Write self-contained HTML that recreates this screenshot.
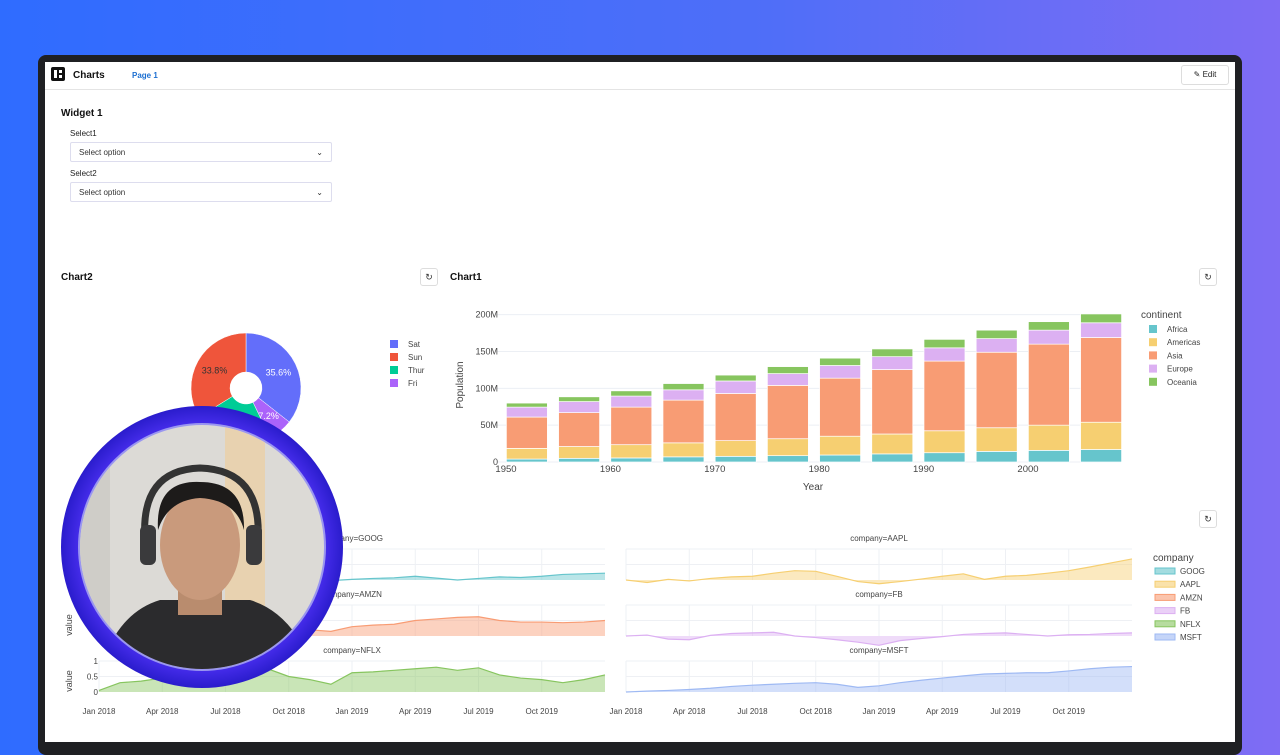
<!DOCTYPE html>
<html><head><meta charset="utf-8"><style>
body{margin:0;width:1280px;height:720px;overflow:hidden;font-family:"Liberation Sans",sans-serif;background:linear-gradient(90deg,#2f6cff 0%,#4f6ef8 60%,#7f6cf4 100%);position:relative}
.abs{position:absolute}
.win{left:38px;top:55px;width:1204px;height:700px;background:#1f2023;border-radius:8px}
.inner{left:45px;top:62px;width:1190px;height:680px;background:#fff}
.lbl{font-size:8px;color:#222}
.sel{width:262px;height:20px;border:1px solid #dde;border-radius:2px;font-size:8px;color:#333;line-height:20px;padding-left:8px;box-sizing:border-box}
.btn{width:18px;height:18px;border:1px solid #ddd;border-radius:3px;box-sizing:border-box;font-size:9px;text-align:center;line-height:16px;color:#333}
</style></head><body>
<div class="abs win"></div>
<div class="abs inner"></div>
<div class="abs" style="left:45px;top:89px;width:1190px;height:1px;background:#e4e4e4"></div>
<div class="abs" style="left:51px;top:67px;width:14px;height:14px;background:#111;border-radius:2px"><div class="abs" style="left:3px;top:3px;width:3px;height:8px;background:#fff"></div><div class="abs" style="left:8px;top:3px;width:3px;height:3px;background:#fff"></div><div class="abs" style="left:8px;top:8px;width:3px;height:3px;background:#fff"></div></div>
<div class="abs" style="left:73px;top:70px;font-size:10px;font-weight:bold;color:#111">Charts</div>
<div class="abs" style="left:132px;top:71px;font-size:8px;font-weight:bold;color:#1c6fd1">Page 1</div>
<div class="abs" style="left:1181px;top:65px;width:48px;height:20px;border:1px solid #ddd;border-radius:3px;box-sizing:border-box;font-size:8px;line-height:18px;text-align:center;color:#222">✎ Edit</div>
<div class="abs" style="left:61px;top:108px;font-size:10px;font-weight:bold;color:#111">Widget 1</div>
<div class="abs lbl" style="left:70px;top:129px">Select1</div>
<div class="abs sel" style="left:70px;top:142px">Select option<span style="position:absolute;right:8px;top:0">⌄</span></div>
<div class="abs lbl" style="left:70px;top:169px">Select2</div>
<div class="abs sel" style="left:70px;top:182px">Select option<span style="position:absolute;right:8px;top:0">⌄</span></div>
<div class="abs" style="left:61px;top:272px;font-size:10px;font-weight:bold;color:#111">Chart2</div>
<div class="abs" style="left:450px;top:272px;font-size:10px;font-weight:bold;color:#111">Chart1</div>
<div class="abs btn" style="left:420px;top:268px">↻</div>
<div class="abs btn" style="left:1199px;top:268px">↻</div>
<div class="abs btn" style="left:1199px;top:510px">↻</div>
<svg id="s" class="abs" style="left:0;top:0" width="1280" height="720" font-family="Liberation Sans, sans-serif"></svg>
<script>
// ---- bar chart data ----
const years=[1952,1957,1962,1967,1972,1977,1982,1987,1992,1997,2002,2007];
const africa=[4,5,5.5,7,7.7,8.6,9.5,11,12.6,14.4,15.8,17];
const americas=[14.5,16,18,19,21.3,23,25.5,27,29.8,32.1,34.2,37];
const asia=[42.5,46,51,58,64,72.4,78.8,87.5,94.6,102.5,110,115];
const europe=[13.5,15,15,14,17,16,17.2,17.5,18,18.5,19,20];
const oceania=[5.5,6.5,7.1,8.5,8,9.5,10,10.5,11.5,11.5,11.5,12];
const yTicks=[0,50,100,150,200];
const yTickLabels=["0","50M","100M","150M","200M"];
const xTicks=[1950,1960,1970,1980,1990,2000];
// ---- pie data ----
const days=["Sat","Fri","Thur","Sun"];
const dayPct=[35.6,7.2,23.4,33.8];
// ---- area chart data ----
const companies=["GOOG","AAPL","AMZN","FB","NFLX","MSFT"];
const goog=[0.05,0.08,0.02,0.04,0.08,0.12,0.15,0.18,0.14,0.05,0.0,-0.02,0.02,0.05,0.07,0.12,0.06,0.0,0.05,0.1,0.08,0.12,0.18,0.2,0.22];
const aapl=[0.0,-0.08,0.02,-0.03,0.05,0.1,0.12,0.22,0.3,0.28,0.12,-0.05,-0.12,-0.05,0.03,0.12,0.2,0.02,0.12,0.15,0.22,0.3,0.42,0.55,0.68];
const amzn=[0.0,0.1,0.2,0.25,0.3,0.4,0.5,0.45,0.55,0.35,0.2,0.15,0.3,0.35,0.38,0.5,0.55,0.6,0.62,0.5,0.45,0.45,0.43,0.45,0.5];
const fb=[0,0.03,-0.1,-0.12,0.02,0.08,0.1,0.12,0.0,-0.05,-0.12,-0.2,-0.3,-0.15,-0.08,-0.02,0.05,0.08,0.1,0.05,0.0,0.04,0.05,0.08,0.1];
const nflx=[0.05,0.3,0.35,0.45,0.6,0.75,0.8,0.7,0.75,0.5,0.4,0.25,0.62,0.65,0.7,0.75,0.8,0.7,0.78,0.55,0.45,0.4,0.3,0.4,0.55];
const msft=[0,0.03,0.05,0.08,0.12,0.18,0.22,0.25,0.28,0.3,0.25,0.15,0.2,0.3,0.38,0.45,0.52,0.58,0.6,0.62,0.62,0.68,0.75,0.8,0.82];
const dateLabels=["Jan 2018","Apr 2018","Jul 2018","Oct 2018","Jan 2019","Apr 2019","Jul 2019","Oct 2019"];

const S=document.getElementById('s');const NS='http://www.w3.org/2000/svg';
function el(t,a,txt){const e=document.createElementNS(NS,t);for(const k in a)e.setAttribute(k,a[k]);if(txt!==undefined)e.textContent=txt;S.appendChild(e);return e;}

// bar chart
const bx=y=>506+(y-1950)*10.44, by=v=>462-v*0.7366;
yTicks.forEach((t,i)=>{
 const g=el('line',{x1:497,x2:1121,y1:by(t),y2:by(t),stroke:'#eceff4','stroke-width':1});
 
 const l=el('text',{x:498,y:by(t)+3,'text-anchor':'end','font-size':9,fill:'#444'},yTickLabels[i]);
 
});
xTicks.forEach(t=>{const l=el('text',{x:bx(t),y:472,'text-anchor':'middle','font-size':9.5,fill:'#444'},t);
 });
const cont=[["Africa",africa,"#66C5CC"],["Americas",americas,"#F6CF71"],["Asia",asia,"#F89C74"],["Europe",europe,"#DCB0F2"],["Oceania",oceania,"#87C55F"]];
years.forEach((yr,i)=>{let c=0;cont.forEach(([n,arr,col])=>{const v=arr[i];
 const r=el('rect',{x:bx(yr)-20.5,width:41,y:by(c+v),height:v*0.7366,fill:col,stroke:'#fff','stroke-width':0.7});
 c+=v;});});
let t=el('text',{x:813,y:490,'text-anchor':'middle','font-size':10,fill:'#444'},'Year');
t=el('text',{x:463,y:385,'text-anchor':'middle','font-size':10,fill:'#444',transform:'rotate(-90 463 385)'},'Population');
t=el('text',{x:1141,y:318,'font-size':10,fill:'#444'},'continent');
cont.forEach(([n,a,col],i)=>{const y=329+i*13.2;
 const r=el('rect',{x:1149,y:y-4,width:8,height:8,fill:col});
 const l=el('text',{x:1167,y:y+3,'font-size':8,fill:'#444'},n);});

// pie
const pc=[246,388],R=55,ri=16;const dcol={"Sat":"#636EFA","Sun":"#EF553B","Thur":"#00CC96","Fri":"#AB63FA"};
let a0=-Math.PI/2;const tot=dayPct.reduce((a,b)=>a+b,0);
days.forEach((d,i)=>{const a1=a0+dayPct[i]/tot*2*Math.PI;const lg=(a1-a0)>Math.PI?1:0;
 const p=(r,a)=>[pc[0]+r*Math.cos(a),pc[1]+r*Math.sin(a)];
 const [x0,y0]=p(R,a0),[x1,y1]=p(R,a1),[x2,y2]=p(ri,a1),[x3,y3]=p(ri,a0);
 const s=el('path',{d:`M${x0},${y0}A${R},${R} 0 ${lg} 1 ${x1},${y1}L${x2},${y2}A${ri},${ri} 0 ${lg} 0 ${x3},${y3}Z`,fill:dcol[d],stroke:'#fff','stroke-width':0.5});
 
 const m=(a0+a1)/2,[lx,ly]=p(36,m);
 const l=el('text',{x:lx,y:ly+3,'text-anchor':'middle','font-size':9,fill:d==='Sun'?'#333':'#fff'},dayPct[i].toFixed(1)+'%');
 a0=a1;});
["Sat","Sun","Thur","Fri"].forEach((d,i)=>{const y=344+i*13;
 const r=el('rect',{x:390,y:y-4,width:8,height:8,fill:dcol[d]});
 const l=el('text',{x:408,y:y+3,'font-size':8,fill:'#444'},d);});

// area facets
const series=[goog,aapl,amzn,fb,nflx,msft];const ccol=["#66C5CC","#F6CF71","#F89C74","#DCB0F2","#87C55F","#9EB9F3"];
const colX=[99,626],rowBase=[580,636,692],W=506,U=31;
series.forEach((vals,k)=>{const x0=colX[k%2],b=rowBase[Math.floor(k/2)];
 const fx=m=>x0+m*W/24, fy=v=>b-v*U;
 for(let q=0;q<8;q++){const g=el('line',{x1:fx(q*3),x2:fx(q*3),y1:b-U,y2:b,stroke:'#eef0f4'});}
 [0.5,1].forEach(v=>{const g=el('line',{x1:x0,x2:x0+W,y1:fy(v),y2:fy(v),stroke:'#eef0f4'});});
 let d=vals.map((v,m)=>(m?'L':'M')+fx(m)+','+fy(v)).join('');
 const f=el('path',{d:d+`L${fx(24)},${b}L${x0},${b}Z`,fill:ccol[k],'fill-opacity':0.45});
 const l=el('path',{d:d,fill:'none',stroke:ccol[k],'stroke-width':1.2});
 const tt=el('text',{x:x0+W/2,y:b-U-8,'text-anchor':'middle','font-size':8,fill:'#444'},'company='+companies[k]);
});
colX.forEach(x0=>dateLabels.forEach((s,q)=>{const l=el('text',{x:x0+q*3*W/24,y:714,'text-anchor':'middle','font-size':8,fill:'#444'},s);}));
[[0,"0"],[0.5,"0.5"],[1,"1"]].forEach(([v,s])=>{const l=el('text',{x:98,y:692-v*U+3,'text-anchor':'end','font-size':8,fill:'#444'},s);});
[625,681].forEach(y=>{const l=el('text',{x:72,y:y,'text-anchor':'middle','font-size':9,fill:'#444',transform:`rotate(-90 72 ${y})`},'value');});
t=el('text',{x:1153,y:561,'font-size':10,fill:'#444'},'company');
companies.forEach((c,i)=>{const y=571+i*13.2;
 const r=el('rect',{x:1155,y:y-3,width:20,height:6,fill:ccol[i],'fill-opacity':0.6,stroke:ccol[i]});
 const l=el('text',{x:1180,y:y+3,'font-size':8,fill:'#444'},c);});

// webcam overlay
const defs=el('defs',{});defs.innerHTML='<radialGradient id="rg" cx="0.5" cy="0.5" r="0.5"><stop offset="0.85" stop-color="#4a2ff0"/><stop offset="1" stop-color="#2a1ccc"/></radialGradient><clipPath id="cp"><circle cx="202" cy="547" r="122"/></clipPath>';
let w=el('circle',{cx:202,cy:547,r:141,fill:'url(#rg)'});
w=el('circle',{cx:202,cy:547,r:124,fill:'#9a96f0'});
const g=el('g',{'clip-path':'url(#cp)'});
g.innerHTML='<rect x="80" y="425" width="250" height="250" fill="#dcdad6"/><rect x="225" y="425" width="40" height="250" fill="#e8d2b0"/><rect x="80" y="425" width="30" height="250" fill="#cfcdc8"/><path d="M95,690 Q110,615 160,600 L250,600 Q300,615 320,690Z" fill="#2b2b2d"/><rect x="178" y="570" width="44" height="45" fill="#b98c6e"/><ellipse cx="200" cy="545" rx="40" ry="55" fill="#c99a7c"/><path d="M158,530 Q155,480 200,482 Q245,482 244,530 Q236,500 200,498 Q168,500 158,530Z" fill="#1d1b1a"/><path d="M145,540 Q140,470 200,468 Q262,470 258,540" fill="none" stroke="#333" stroke-width="7"/><rect x="140" y="525" width="16" height="40" rx="6" fill="#3a3a3c"/><rect x="246" y="525" width="16" height="40" rx="6" fill="#3a3a3c"/>';
</script>
</body></html>
